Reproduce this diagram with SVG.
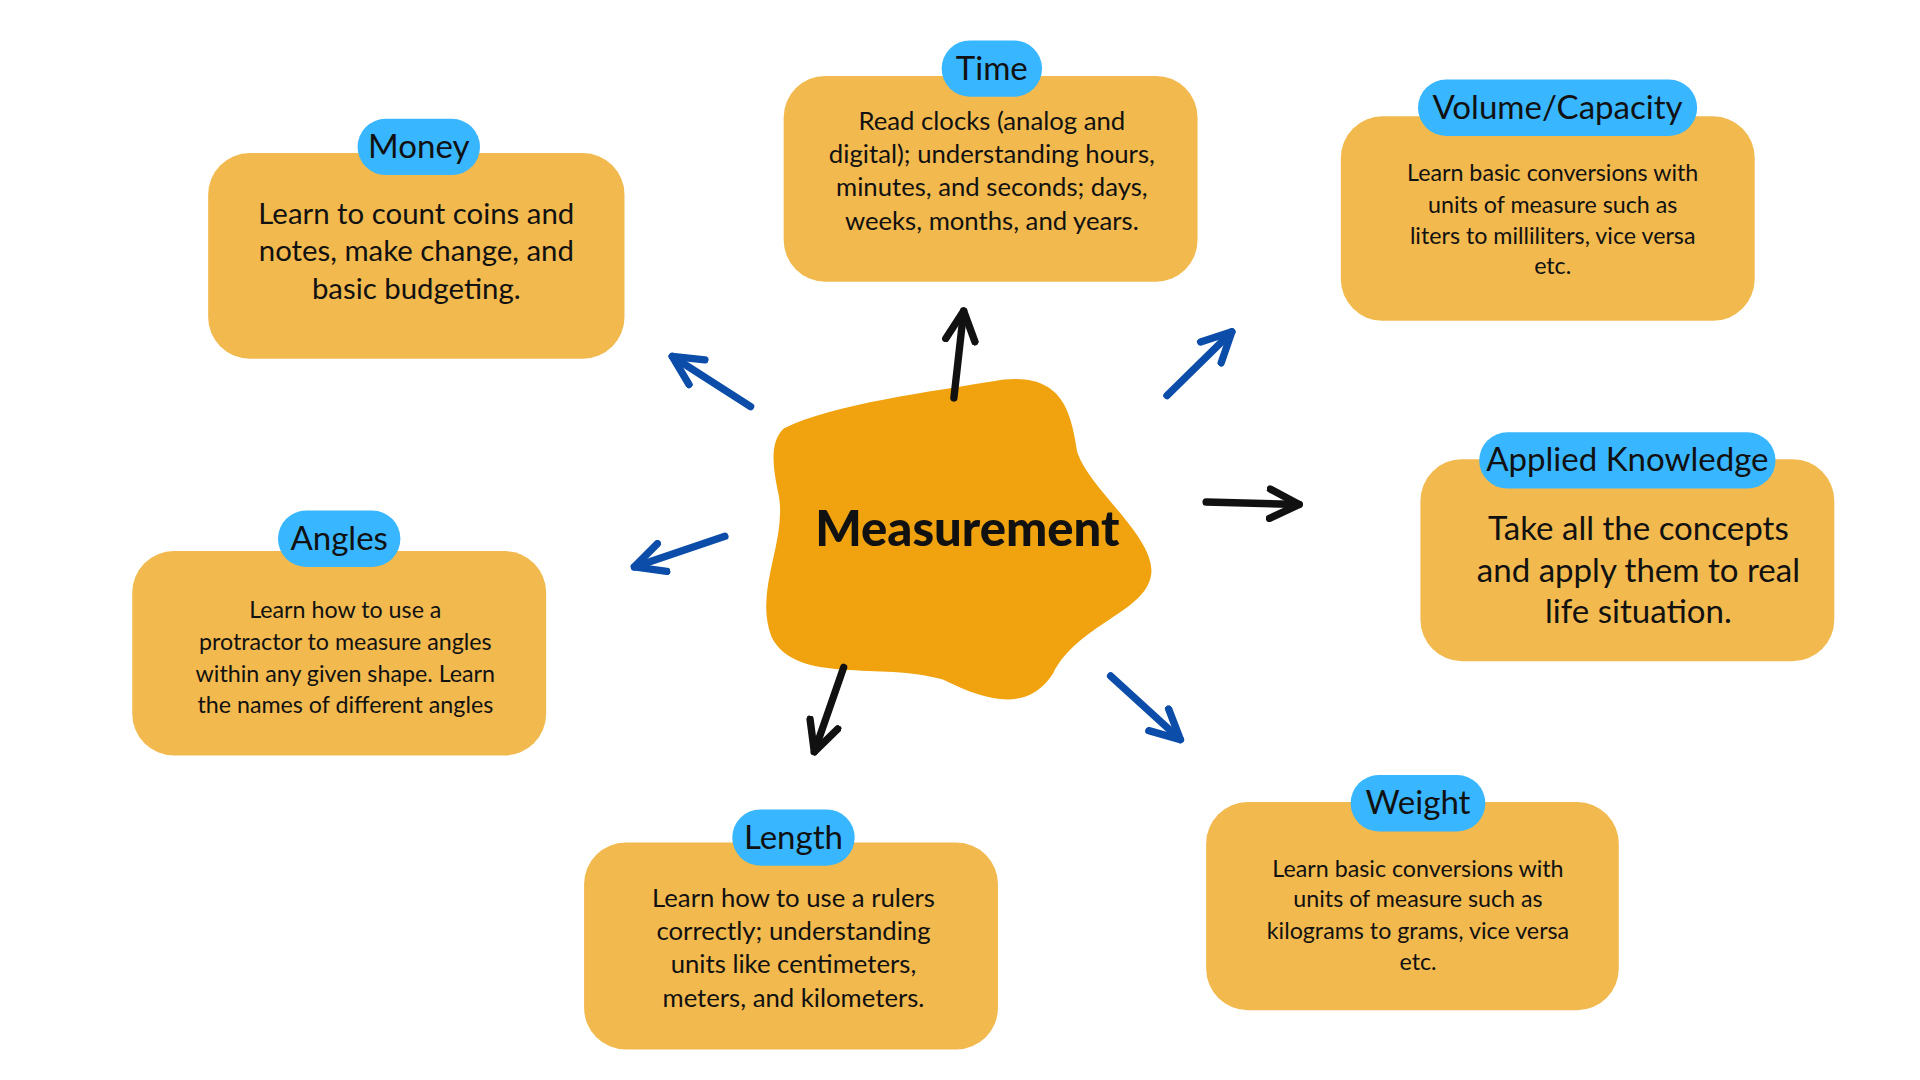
<svg xmlns="http://www.w3.org/2000/svg" width="1920" height="1080" viewBox="0 0 1920 1080">
<defs>
<style>
.box{fill:#F2B94E}
.pill{fill:#38B6FF}
.t{font-family:"Lato","Open Sans",sans-serif;fill:#111;text-anchor:middle}
.lab{font-family:"Lato","Open Sans",sans-serif;fill:#111;text-anchor:middle;font-size:27px}
.blue{stroke:#0B4DA8;stroke-width:6;fill:none;stroke-linecap:round}
.black{stroke:#111;stroke-width:6;fill:none;stroke-linecap:round}
</style>
<marker id="hb" viewBox="0 0 10 10" refX="9" refY="5" markerWidth="5" markerHeight="5" orient="auto" markerUnits="strokeWidth"><path d="M1,1 L9,5 L1,9" fill="none" stroke="#0B4DA8" stroke-width="2" stroke-linecap="round" stroke-linejoin="round"/></marker>
<marker id="hk" viewBox="0 0 10 10" refX="9" refY="5" markerWidth="5" markerHeight="5" orient="auto" markerUnits="strokeWidth"><path d="M1,1 L9,5 L1,9" fill="none" stroke="#111" stroke-width="2" stroke-linecap="round" stroke-linejoin="round"/></marker>
</defs>
<rect width="1920" height="1080" fill="#fff"/>
<g transform="scale(1.2245)">
<g id="center">
<path d="M640,350 C680,330 760,320 820,310 C870,305 875,340 880,370 C890,400 945,440 940,470 C935,500 880,510 860,550 C840,580 810,575 770,555 C720,540 650,560 630,520 C615,480 645,440 635,400 C630,375 630,360 640,350 Z" fill="#F0A30F"/>
<text class="t" x="790" y="446" font-size="40" font-weight="900">Measurement</text>
</g>
<g id="connectors">
<line class="blue" x1="613" y1="332" x2="549" y2="291" marker-end="url(#hb)"/>
<line class="black" x1="779" y1="325" x2="787" y2="254" marker-end="url(#hk)"/>
<line class="blue" x1="953" y1="323" x2="1006" y2="271" marker-end="url(#hb)"/>
<line class="black" x1="985" y1="410" x2="1061" y2="412" marker-end="url(#hk)"/>
<line class="blue" x1="592" y1="438" x2="518" y2="463" marker-end="url(#hb)"/>
<line class="black" x1="689" y1="545" x2="665" y2="614" marker-end="url(#hk)"/>
<line class="blue" x1="907" y1="552" x2="964" y2="604" marker-end="url(#hb)"/>
</g>
<g id="money">
<rect class="box" x="170" y="125" width="340" height="168" rx="34"/>
<rect class="pill" x="292" y="97" width="100" height="46" rx="23"/>
<text class="lab" x="342" y="129">Money</text>
<text class="t" font-size="24"><tspan x="340" y="183">Learn to count coins and</tspan><tspan x="340" y="213">notes, make change, and</tspan><tspan x="340" y="244">basic budgeting.</tspan></text>
</g>
<g id="time">
<rect class="box" x="640" y="62" width="338" height="168" rx="34"/>
<rect class="pill" x="769" y="33" width="82" height="46" rx="23"/>
<text class="lab" x="810" y="65">Time</text>
<text class="t" font-size="21"><tspan x="810" y="106">Read clocks (analog and</tspan><tspan x="810" y="133">digital); understanding hours,</tspan><tspan x="810" y="160">minutes, and seconds; days,</tspan><tspan x="810" y="188">weeks, months, and years.</tspan></text>
</g>
<g id="volume">
<rect class="box" x="1095" y="95" width="338" height="167" rx="34"/>
<rect class="pill" x="1158" y="65" width="228" height="46" rx="23"/>
<text class="lab" x="1272" y="97">Volume/Capacity</text>
<text class="t" font-size="19"><tspan x="1268" y="148">Learn basic conversions with</tspan><tspan x="1268" y="174">units of measure such as</tspan><tspan x="1268" y="199">liters to milliliters, vice versa</tspan><tspan x="1268" y="224">etc.</tspan></text>
</g>
<g id="applied">
<rect class="box" x="1160" y="375" width="338" height="165" rx="34"/>
<rect class="pill" x="1208" y="353" width="242" height="46" rx="23"/>
<text class="lab" x="1329" y="385">Applied Knowledge</text>
<text class="t" font-size="27"><tspan x="1338" y="441">Take all the concepts</tspan><tspan x="1338" y="475">and apply them to real</tspan><tspan x="1338" y="509">life situation.</tspan></text>
</g>
<g id="angles">
<rect class="box" x="108" y="450" width="338" height="167" rx="34"/>
<rect class="pill" x="227" y="417" width="100" height="46" rx="23"/>
<text class="lab" x="277" y="449">Angles</text>
<text class="t" font-size="19"><tspan x="282" y="505">Learn how to use a</tspan><tspan x="282" y="531">protractor to measure angles</tspan><tspan x="282" y="557">within any given shape. Learn</tspan><tspan x="282" y="582">the names of different angles</tspan></text>
</g>
<g id="length">
<rect class="box" x="477" y="688" width="338" height="169" rx="34"/>
<rect class="pill" x="598" y="661" width="100" height="46" rx="23"/>
<text class="lab" x="648" y="693">Length</text>
<text class="t" font-size="21"><tspan x="648" y="741">Learn how to use a rulers</tspan><tspan x="648" y="768">correctly; understanding</tspan><tspan x="648" y="795">units like centimeters,</tspan><tspan x="648" y="822">meters, and kilometers.</tspan></text>
</g>
<g id="weight">
<rect class="box" x="985" y="655" width="337" height="170" rx="34"/>
<rect class="pill" x="1103" y="633" width="110" height="46" rx="23"/>
<text class="lab" x="1158" y="665">Weight</text>
<text class="t" font-size="19"><tspan x="1158" y="716">Learn basic conversions with</tspan><tspan x="1158" y="741">units of measure such as</tspan><tspan x="1158" y="767">kilograms to grams, vice versa</tspan><tspan x="1158" y="792">etc.</tspan></text>
</g>
</g>
</svg>
